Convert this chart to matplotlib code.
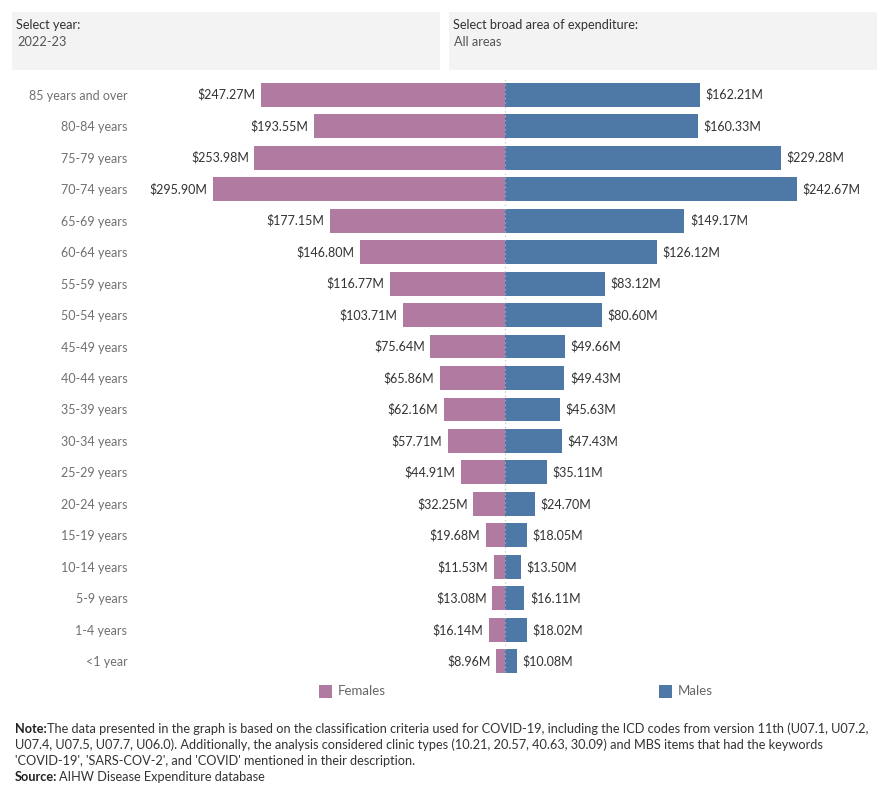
import matplotlib
matplotlib.use('Agg')
import matplotlib.pyplot as plt
from matplotlib.patches import Rectangle

age_groups = ["85 years and over", "80-84 years", "75-79 years", "70-74 years", "65-69 years",
              "60-64 years", "55-59 years", "50-54 years", "45-49 years", "40-44 years",
              "35-39 years", "30-34 years", "25-29 years", "20-24 years", "15-19 years",
              "10-14 years", "5-9 years", "1-4 years", "<1 year"]
females = [247.27, 193.55, 253.98, 295.90, 177.15, 146.80, 116.77, 103.71, 75.64, 65.86,
           62.16, 57.71, 44.91, 32.25, 19.68, 11.53, 13.08, 16.14, 8.96]
males = [162.21, 160.33, 229.28, 242.67, 149.17, 126.12, 83.12, 80.60, 49.66, 49.43,
         45.63, 47.43, 35.11, 24.70, 18.05, 13.50, 16.11, 18.02, 10.08]

FEMALE = "#b07aa1"
MALE = "#4e79a7"
W, H = 890, 800
FONT = ["Lato", "DejaVu Sans"]

plt.rcParams['font.family'] = FONT

fig = plt.figure(figsize=(W / 100, H / 100), dpi=100)


def px_axes(x0, y0, x1, y1):
    # pixel box (top-left origin) -> figure axes
    return fig.add_axes([x0 / W, 1 - y1 / H, (x1 - x0) / W, (y1 - y0) / H])


center = 505
top, bottom = 79, 677
bar_max_px = 292
fem_left, male_right = 137, 880

ax_f = px_axes(fem_left, top, center, bottom)
ax_m = px_axes(center, top, male_right, bottom)

ypos = list(range(len(age_groups)))

ax_f.barh(ypos, females, height=0.76, color=FEMALE)
ax_m.barh(ypos, males, height=0.76, color=MALE)

ax_f.set_xlim(max(females) * (center - fem_left) / bar_max_px, 0)
ax_m.set_xlim(0, max(males) * (male_right - center) / bar_max_px)

for ax in (ax_f, ax_m):
    ax.set_ylim(len(age_groups) - 0.5, -0.5)
    for s in ax.spines.values():
        s.set_visible(False)
    ax.set_xticks([])

ax_m.set_yticks([])
ax_f.set_yticks(ypos)
ax_f.set_yticklabels(age_groups, fontsize=9, color="#707070")
ax_f.tick_params(axis="y", length=0, pad=7)

for y, v in zip(ypos, females):
    ax_f.annotate(f"${v:.2f}M", (v, y), xytext=(-4, 0), textcoords="offset points",
                  ha="right", va="center", fontsize=9, color="#333333")
for y, v in zip(ypos, males):
    ax_m.annotate(f"${v:.2f}M", (v, y), xytext=(4, 0), textcoords="offset points",
                  ha="left", va="center", fontsize=9, color="#333333")

# dotted centre line
fig.add_artist(plt.Line2D([center / W, center / W], [1 - 672 / H, 1 - 78 / H],
                          color="#bbbbbb", linewidth=0.8, linestyle=(0, (1, 3))))

# filter boxes
for x0, x1, title, value in [(12, 440, "Select year:", "2022-23"),
                             (449, 877, "Select broad area of expenditure:", "All areas")]:
    fig.add_artist(Rectangle((x0 / W, 1 - 70 / H), (x1 - x0) / W, 58 / H,
                             transform=fig.transFigure, facecolor="#f3f3f3", edgecolor="none"))
    fig.text((x0 + 4) / W, 1 - 25 / H, title, fontsize=9.2, color="#333333", va="center")
    fig.text((x0 + 5) / W, 1 - 42 / H, value, fontsize=9.2, color="#555555", va="center")

# legend
for x, label, c in [(319, "Females", FEMALE), (659, "Males", MALE)]:
    fig.add_artist(Rectangle((x / W, 1 - 698 / H), 13 / W, 13 / H,
                             transform=fig.transFigure, facecolor=c, edgecolor="none"))
    fig.text((x + 19) / W, 1 - 691 / H, label, fontsize=9.5, color="#666666", va="center")

# note
note_lines = [
    "The data presented in the graph is based on the classification criteria used for COVID-19, including the ICD codes from version 11th (U07.1, U07.2,",
    "U07.4, U07.5, U07.7, U06.0). Additionally, the analysis considered clinic types (10.21, 20.57, 40.63, 30.09) and MBS items that had the keywords",
    "'COVID-19', 'SARS-COV-2', and 'COVID' mentioned in their description.",
]
NOTE_FS = 9.2
t = fig.text(15 / W, 1 - 729 / H, "Note:", fontsize=NOTE_FS, fontweight="bold", color="#222222",
             va="center")
fig.canvas.draw()
bb = t.get_window_extent()
fig.text(bb.x1 / W, 1 - 729 / H, note_lines[0], fontsize=NOTE_FS, color="#333333", va="center")
for i, line in enumerate(note_lines[1:]):
    fig.text(15 / W, 1 - (745 + 16 * i) / H, line, fontsize=NOTE_FS, color="#333333", va="center")
t2 = fig.text(15 / W, 1 - 777 / H, "Source:", fontsize=NOTE_FS, fontweight="bold",
              color="#222222", va="center")
fig.canvas.draw()
bb2 = t2.get_window_extent()
fig.text((bb2.x1 + 2) / W, 1 - 777 / H, "AIHW Disease Expenditure database", fontsize=NOTE_FS,
         color="#333333", va="center")

fig.savefig("out.png", dpi=100)
